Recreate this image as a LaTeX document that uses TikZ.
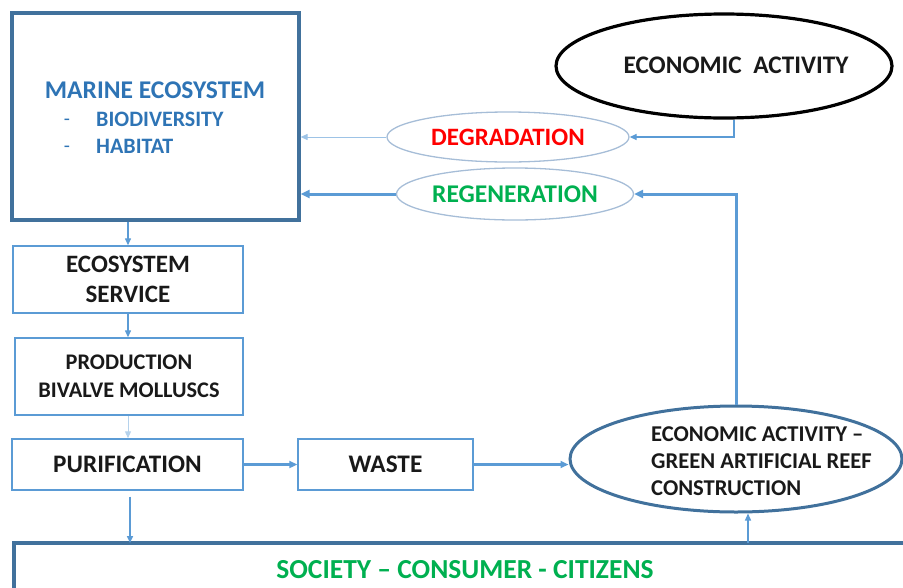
\documentclass[tikz,border=0pt]{standalone}
\usepackage{fontspec}
\setmainfont{Carlito}
\usetikzlibrary{shapes.geometric,arrows.meta}
\definecolor{frameblue}{HTML}{41719C}
\definecolor{lineblue}{HTML}{5B9BD5}
\definecolor{paleblue}{HTML}{A6BDD7}
\definecolor{titleblue}{HTML}{2E74B5}
\definecolor{degred}{HTML}{FF0000}
\definecolor{regreen}{HTML}{00B050}
\begin{document}
\begin{tikzpicture}[x=1pt,y=-1pt,
  font=\bfseries,
  thinbox/.style={draw=lineblue,line width=1.4pt,rectangle,inner sep=0pt,align=center,text=black!90},
  thickbox/.style={draw=frameblue,line width=3.2pt,rectangle,inner sep=0pt},
  paleoval/.style={draw=paleblue,line width=1.3pt,ellipse,inner sep=0pt},
  tip/.style={-{Triangle[length=7pt,width=6pt]}},
  flow/.style={tip,draw=lineblue,line width=1.3pt},
  faint/.style={tip,draw=lineblue!60,line width=1pt},
  heavy/.style={-{Triangle[length=9pt,width=8pt]},draw=lineblue,line width=3pt},
  mid/.style={-{Triangle[length=8pt,width=7pt]},draw=lineblue,line width=2.4pt},
  blue text/.style={text=titleblue,font=\bfseries\fontsize{22}{25}\selectfont},
]
\useasboundingbox (0,0) rectangle (903,587);
\clip (0,0) rectangle (903,587);

% marine ecosystem block
\node[thickbox,minimum width=287pt,minimum height=207pt] (marine) at (155.5,116.5) {};
\node[text=titleblue,font=\bfseries\fontsize{25.5}{28}\selectfont] (mtitle) at (155,90) {MARINE ECOSYSTEM};
\node[blue text,font=\fontsize{20}{22}\selectfont] (d1) at (67,122) {-};
\node[blue text,font=\fontsize{20}{22}\selectfont] (d2) at (67,149) {-};
\node[blue text,anchor=west,inner sep=0pt] (bio) at (96,119) {BIODIVERSITY};
\node[blue text,anchor=west,inner sep=0pt] (hab) at (96,146) {HABITAT};

% economic activity
\node[draw=black,line width=3.2pt,ellipse,inner sep=0pt,minimum width=336pt,minimum height=104pt] (econ) at (724,66) {};
\node[font=\bfseries\fontsize{25.3}{28}\selectfont,text=black!90] (econt) at (736,65) {ECONOMIC\ \ ACTIVITY};

% degradation / regeneration
\node[paleoval,minimum width=242pt,minimum height=50pt,text=degred,font=\bfseries\fontsize{25}{28}\selectfont] (deg) at (508,137) {DEGRADATION};
\node[paleoval,minimum width=237pt,minimum height=52pt,text=regreen,font=\bfseries\fontsize{25.5}{28}\selectfont] (regen) at (515,194) {REGENERATION};

% chain of boxes
\node[thinbox,minimum width=230pt,minimum height=67pt,font=\bfseries\fontsize{25}{30}\selectfont] (serv) at (128,279.5) {ECOSYSTEM\\SERVICE};
\node[thinbox,minimum width=228pt,minimum height=77pt,font=\bfseries\fontsize{22.3}{28}\selectfont] (prod) at (129,376.5) {PRODUCTION\\BIVALVE MOLLUSCS};
\node[thinbox,minimum width=231pt,minimum height=51pt,font=\bfseries\fontsize{25.2}{28}\selectfont] (purif) at (127.5,464.5) {PURIFICATION};
\node[thinbox,minimum width=175pt,minimum height=51pt,font=\bfseries\fontsize{25.3}{28}\selectfont] (waste) at (385.5,464.5) {WASTE};

% green artificial reef
\node[draw=frameblue,line width=3pt,ellipse,inner sep=0pt,minimum width=332pt,minimum height=106pt] (reef) at (736,459) {};
\node[font=\bfseries\fontsize{22.6}{27}\selectfont,text=black!90,align=left,anchor=west,inner sep=0pt] (reeft) at (651,461) {ECONOMIC ACTIVITY --\\GREEN ARTIFICIAL REEF\\CONSTRUCTION};

% society
\draw[frameblue,line width=3.2pt] (14,620) -- (14,543) -- (930,543);
\node[text=regreen,font=\bfseries\fontsize{27.5}{30}\selectfont] (soc) at (465,570) {SOCIETY -- CONSUMER - CITIZENS};
\coordinate (socL) at (130,543);
\coordinate (socR) at (748,543);

% connectors
\coordinate (econdrop) at (734,66);
\draw[flow] (econdrop |- econ.south) |- (deg.east);
\draw[faint] (deg.west) -- (deg.west -| marine.east);
\draw[heavy] (reef.north) |- (regen.east);
\draw[heavy] (regen.west) -- (regen.west -| marine.east);
\draw[flow] (serv.north |- marine.south) -- (serv.north);
\draw[flow] (serv.south) -- (serv.south |- prod.north);
\draw[faint,draw=lineblue!45] (prod.south -| serv.south) -- (purif.north -| serv.south);
\draw[mid] (purif.east) -- (waste.west);
\draw[mid] (waste.east) -- (waste.east -| reef.west);
\draw[flow,line width=1.5pt] (socL |- purif.south) ++(0,6) -- (socL);
\draw[flow] (socR) -- (socR |- reef.south);
\end{tikzpicture}
\end{document}
